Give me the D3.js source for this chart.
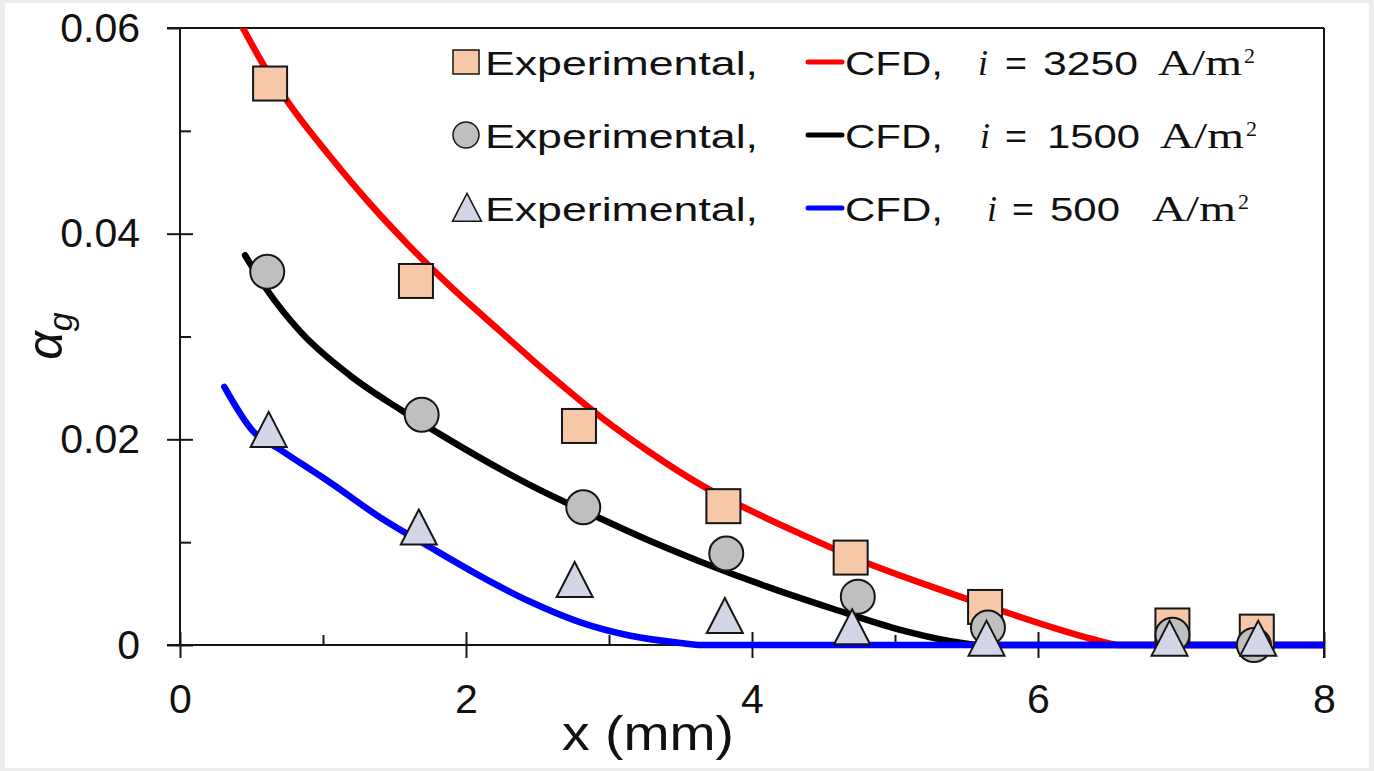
<!DOCTYPE html>
<html>
<head>
<meta charset="utf-8">
<script src="https://cdn.jsdelivr.net/npm/d3@7"></script>
<style>
  html, body { margin: 0; padding: 0; background: #fff; }
  svg { display: block; }
  .tick text { font-family: "Liberation Sans", Arial, sans-serif; fill: #111; }
</style>
</head>
<body>
<div id="chart"></div>
<script>
// CFD curves (x in mm, void fraction)
const redX = [0.44, 0.58, 0.77, 1.05, 1.31, 1.59, 1.85, 2.24, 2.59, 2.94, 3.29, 3.64, 4.06, 4.34, 4.80, 5.27, 5.73, 6.08, 6.43, 6.56, 8.0];
const redY = [0.0600, 0.0565, 0.0525, 0.0475, 0.0432, 0.0390, 0.0354, 0.0305, 0.0262, 0.0222, 0.0187, 0.0156, 0.0126, 0.0108, 0.0080, 0.0056, 0.0034, 0.0018, 0.0004, 0, 0];
const blackX = [0.455, 0.61, 0.84, 1.19, 1.54, 1.89, 2.24, 2.47, 2.94, 3.24, 3.64, 4.10, 4.57, 5.03, 5.38, 5.60, 8.0];
const blackY = [0.0379, 0.0345, 0.0305, 0.0262, 0.0229, 0.0199, 0.0171, 0.0154, 0.0123, 0.0104, 0.0081, 0.0057, 0.0035, 0.0015, 0.0004, 0, 0];
const blueX = [0.31, 0.51, 0.70, 1.05, 1.40, 1.75, 2.10, 2.45, 2.80, 3.15, 3.50, 3.65, 8.0];
const blueY = [0.0251, 0.0208, 0.0190, 0.0158, 0.0124, 0.0095, 0.0067, 0.0042, 0.0022, 0.0009, 0.0002, 0, 0];

// experimental points
const sqX = [0.63, 1.65, 2.79, 3.80, 4.69, 5.63, 6.94, 7.53];
const sqY = [0.0546, 0.0354, 0.0213, 0.0135, 0.0085, 0.0037, 0.0019, 0.0013];
const circX = [0.61, 1.69, 2.82, 3.82, 4.74, 5.65, 6.94, 7.51];
const circY = [0.0363, 0.0224, 0.0134, 0.0089, 0.0047, 0.0017, 0.0010, 0.0000];
const triX = [0.62, 1.67, 2.76, 3.81, 4.70, 5.64, 6.92, 7.54];
const triY = [0.0204, 0.0109, 0.0058, 0.0023, 0.0012, 0.0001, 0.0001, 0.0001];

const xTicks = [0, 2, 4, 6, 8];
const xMinor = [1, 3, 5, 7];
const yTicks = [0, 0.02, 0.04, 0.06];
const yTickLabels = ['0', '0.02', '0.04', '0.06'];
const yMinor = [0.01, 0.03, 0.05];
const currents = ['3250', '1500', '500'];

const width = 1374;
const height = 771;
const margin = { top: 28, right: 50, bottom: 126, left: 180 };
const innerW = width - margin.left - margin.right;
const innerH = height - margin.top - margin.bottom;

const svg = d3.select('#chart').append('svg')
  .attr('width', width)
  .attr('height', height);

// light grey frame round the picture
svg.append('rect').attr('width', width).attr('height', height).attr('fill', '#ededed');
svg.append('rect').attr('x', 5).attr('y', 3).attr('width', width - 10).attr('height', height - 6).attr('fill', '#fff');

const g = svg.append('g').attr('transform', `translate(${margin.left},${margin.top})`);

const x = d3.scaleLinear().domain([0, 8]).range([0, innerW]);
const y = d3.scaleLinear().domain([0, 0.06]).range([innerH, 0]);

svg.append('defs').append('clipPath').attr('id', 'plot-clip')
  .append('rect').attr('x', 0).attr('y', 0).attr('width', innerW).attr('height', innerH + 10);

const ink = '#161616';

// axes: major ticks cross the line, minor ticks point inward
function styleAxis(sel) {
  sel.select('.domain').remove();
  sel.selectAll('line').attr('stroke', ink).attr('stroke-width', 2);
}

g.append('g')
  .attr('transform', `translate(0,${innerH})`)
  .call(d3.axisBottom(x).tickValues(xTicks).tickSize(13).tickPadding(26).tickFormat(d3.format('d')))
  .call(styleAxis)
  .selectAll('text').attr('font-size', 41);
g.append('g')
  .attr('transform', `translate(0,${innerH})`)
  .call(d3.axisTop(x).tickValues(xTicks).tickSize(13).tickFormat(''))
  .call(styleAxis);
g.append('g')
  .attr('transform', `translate(0,${innerH})`)
  .call(d3.axisTop(x).tickValues(xMinor).tickSize(10).tickFormat(''))
  .call(styleAxis);

g.append('g')
  .call(d3.axisLeft(y).tickValues(yTicks).tickSize(13).tickPadding(27).tickFormat((d, i) => yTickLabels[i]))
  .call(styleAxis)
  .selectAll('text').attr('font-size', 41);
g.append('g')
  .call(d3.axisRight(y).tickValues(yTicks.slice(0, 3)).tickSize(13).tickFormat(''))
  .call(styleAxis);
g.append('g')
  .call(d3.axisRight(y).tickValues(yMinor).tickSize(11).tickFormat(''))
  .call(styleAxis);

// box
const frame = g.append('g').attr('stroke', ink).attr('stroke-width', 2).attr('fill', 'none');
frame.append('line').attr('x1', -13).attr('x2', innerW).attr('y1', 0).attr('y2', 0);
frame.append('line').attr('x1', 0).attr('x2', 0).attr('y1', 0).attr('y2', innerH);
frame.append('line').attr('x1', -13).attr('x2', innerW).attr('y1', innerH).attr('y2', innerH);
frame.append('line').attr('x1', innerW).attr('x2', innerW).attr('y1', 0).attr('y2', innerH + 13);

// CFD lines
const lineGen = d3.line()
  .x(d => x(d[0]))
  .y(d => y(d[1]))
  .curve(d3.curveMonotoneX);

const curves = [
  { xs: redX, ys: redY, color: '#ff0000' },
  { xs: blackX, ys: blackY, color: '#000000' },
  { xs: blueX, ys: blueY, color: '#0000ff' }
];

g.append('g').attr('clip-path', 'url(#plot-clip)')
  .selectAll('path')
  .data(curves)
  .join('path')
  .attr('fill', 'none')
  .attr('stroke', d => d.color)
  .attr('stroke-width', 6.5)
  .attr('stroke-linecap', 'round')
  .attr('d', d => lineGen(d.xs.map((v, i) => [v, d.ys[i]])));

// markers
const sqSize = 34;
const circR = 17;
const triW = 36;
const triH = 35;
const triPath = (w, h) => `M0,${-h * 2 / 3}L${w / 2},${h / 3}L${-w / 2},${h / 3}Z`;

g.append('g')
  .selectAll('rect')
  .data(sqX.map((v, i) => [v, sqY[i]]))
  .join('rect')
  .attr('x', d => x(d[0]) - sqSize / 2)
  .attr('y', d => y(d[1]) - sqSize / 2)
  .attr('width', sqSize)
  .attr('height', sqSize)
  .attr('fill', '#f6c8a7')
  .attr('stroke', ink)
  .attr('stroke-width', 2);

g.append('g')
  .selectAll('circle')
  .data(circX.map((v, i) => [v, circY[i]]))
  .join('circle')
  .attr('cx', d => x(d[0]))
  .attr('cy', d => y(d[1]))
  .attr('r', circR)
  .attr('fill', '#bfbfbf')
  .attr('stroke', ink)
  .attr('stroke-width', 2);

g.append('g')
  .selectAll('path')
  .data(triX.map((v, i) => [v, triY[i]]))
  .join('path')
  .attr('transform', d => `translate(${x(d[0])},${y(d[1])})`)
  .attr('d', triPath(triW, triH))
  .attr('fill', '#d3d6e6')
  .attr('stroke', ink)
  .attr('stroke-width', 2);

// legend
const sans = '"Liberation Sans", Arial, sans-serif';
const serif = '"Liberation Serif", "DejaVu Serif", serif';
const legend = svg.append('g');
const rowCenters = [62, 135, 208];
const iconKinds = ['square', 'circle', 'triangle'];
const numPos = [[1043, 95], [1047, 93], [1050, 70]];
const eqPos = [1005, 1005, 1012];
const unitPos = [1158, 1160, 1152];
const iPos = [978, 980, 987];

rowCenters.forEach((cy, i) => {
  const row = legend.append('g');
  const base = cy + 13;
  if (iconKinds[i] === 'square') {
    row.append('rect').attr('x', 453).attr('y', cy - 12).attr('width', 26).attr('height', 24)
      .attr('fill', '#f6c8a7').attr('stroke', ink).attr('stroke-width', 1.5);
  } else if (iconKinds[i] === 'circle') {
    row.append('circle').attr('cx', 466).attr('cy', cy).attr('r', 13)
      .attr('fill', '#bfbfbf').attr('stroke', ink).attr('stroke-width', 1.5);
  } else {
    row.append('path').attr('transform', `translate(467,${cy + 4})`).attr('d', triPath(29, 28))
      .attr('fill', '#d3d6e6').attr('stroke', ink).attr('stroke-width', 1.5);
  }
  row.append('text').attr('x', 485).attr('y', base)
    .attr('font-family', sans).attr('font-size', 34).attr('fill', '#111')
    .attr('textLength', 273).attr('lengthAdjust', 'spacingAndGlyphs')
    .text('Experimental,');
  row.append('line').attr('x1', 808).attr('x2', 842).attr('y1', cy).attr('y2', cy)
    .attr('stroke', curves[i].color).attr('stroke-width', 5).attr('stroke-linecap', 'round');
  row.append('text').attr('x', 845).attr('y', base)
    .attr('font-family', sans).attr('font-size', 34).attr('fill', '#111')
    .attr('textLength', 98).attr('lengthAdjust', 'spacingAndGlyphs')
    .text('CFD,');
  row.append('text').attr('x', iPos[i]).attr('y', base)
    .attr('font-family', serif).attr('font-style', 'italic').attr('font-size', 36).attr('fill', '#111')
    .text('i');
  row.append('text').attr('x', eqPos[i]).attr('y', base)
    .attr('font-family', sans).attr('font-size', 34).attr('fill', '#111')
    .attr('textLength', 22).attr('lengthAdjust', 'spacingAndGlyphs')
    .text('=');
  row.append('text').attr('x', numPos[i][0]).attr('y', base)
    .attr('font-family', sans).attr('font-size', 34).attr('fill', '#111')
    .attr('textLength', numPos[i][1]).attr('lengthAdjust', 'spacingAndGlyphs')
    .text(currents[i]);
  row.append('text').attr('x', unitPos[i]).attr('y', base)
    .attr('font-family', serif).attr('font-size', 36).attr('fill', '#111')
    .attr('textLength', 84).attr('lengthAdjust', 'spacingAndGlyphs')
    .text('A/m');
  row.append('text').attr('x', unitPos[i] + 86).attr('y', base - 12)
    .attr('font-family', serif).attr('font-size', 22).attr('fill', '#111')
    .text('2');
});

// axis titles
svg.append('text')
  .attr('x', 648).attr('y', 750)
  .attr('text-anchor', 'middle')
  .attr('font-family', sans).attr('font-size', 48).attr('fill', '#111')
  .attr('textLength', 172).attr('lengthAdjust', 'spacingAndGlyphs')
  .text('x (mm)');

const yTitle = svg.append('text')
  .attr('transform', 'translate(62,336) rotate(-90)')
  .attr('text-anchor', 'middle')
  .attr('font-family', sans).attr('font-style', 'italic').attr('fill', '#111');
yTitle.append('tspan').attr('font-size', 50).text('α');
yTitle.append('tspan').attr('font-size', 34).attr('dy', 10).text('g');
</script>
</body>
</html>
